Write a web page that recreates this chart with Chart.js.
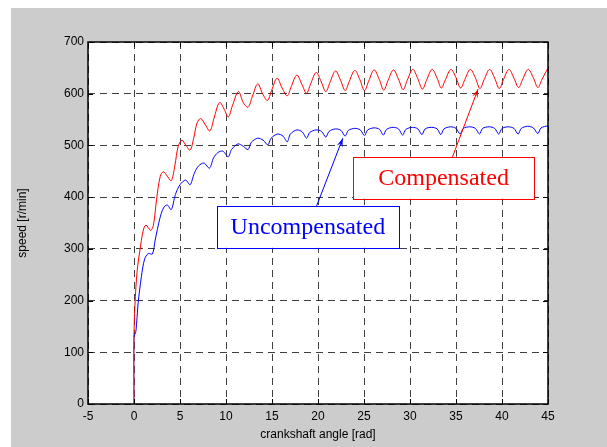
<!DOCTYPE html>
<html>
<head>
<meta charset="utf-8">
<script src="https://cdn.jsdelivr.net/npm/chart.js@4.4.1/dist/chart.umd.min.js"></script>
<style>
  html, body { margin: 0; padding: 0; background: #fff; }
  #wrap { width: 607px; height: 447px; }
</style>
</head>
<body>
<div id="wrap"><canvas id="chartSpeed" width="607" height="447"></canvas></div>
<script>
// ── Données ────────────────────────────────────────
const xTicks = [-5, 0, 5, 10, 15, 20, 25, 30, 35, 40, 45];
const yTicks = [0, 100, 200, 300, 400, 500, 600, 700];

// Compensated (rouge)
const redAngle = [0, 0, 0.1, 0.35, 0.65, 1.0, 1.3, 1.8, 2.1, 2.45, 2.85, 3.2, 3.6, 4.05, 4.45, 4.8, 5.2, 5.65, 6.1,
  6.5, 6.85, 7.25, 7.75, 8.25, 8.7, 9.3, 9.8, 10.25, 10.7, 11.35, 11.9, 12.4, 12.85, 13.45, 14.0, 14.5,
  14.95, 15.55, 16.1, 16.65, 17.1, 17.7, 18.25, 18.75, 19.2, 19.8, 20.35, 20.85, 21.3, 21.9, 22.45, 22.95,
  23.4, 24.0, 24.55, 25.05, 25.5, 26.1, 26.65, 27.15, 27.6, 28.2, 28.75, 29.25, 29.7, 30.3, 30.85, 31.35,
  31.8, 32.4, 32.95, 33.4, 33.85, 34.45, 35.0, 35.5, 35.95, 36.55, 37.1, 37.6, 38.05, 38.65, 39.2, 39.7,
  40.15, 40.75, 41.3, 41.8, 42.25, 42.85, 43.4, 43.9, 44.35, 44.95];
const redSpeed = [0, 130, 190, 259, 298, 335, 346, 336, 345, 395, 440, 449, 441, 432, 462, 498, 510, 500, 491,
  515, 543, 552, 540, 528, 553, 583, 570, 555, 577, 604, 582, 574, 594, 619, 599, 587,
  606, 630, 611, 596, 614, 636, 618, 601, 619, 641, 623, 604, 622, 644, 626, 606,
  624, 645, 627, 606, 624, 646, 628, 607, 625, 646, 628, 608, 626, 647, 629, 609,
  626, 647, 630, 611, 627, 647, 631, 611, 627, 647, 631, 610, 627, 647, 630, 610,
  627, 647, 630, 612, 628, 647, 631, 612, 628, 648];

// Uncompensated (bleu)
const blueAngle = [0, 0, 0.2, 0.45, 0.8, 1.15, 1.55, 2.0, 2.3, 2.8, 3.2, 3.6, 4.05, 4.5, 5.0, 5.6, 6.1,
  6.55, 7.0, 7.6, 8.2, 8.65, 9.1, 9.65, 10.25, 10.6, 11.3, 11.9, 12.4, 12.75, 13.45, 14.05, 14.55,
  14.9, 15.6, 16.2, 16.65, 17.0, 17.7, 18.3, 18.75, 19.1, 19.8, 20.4, 20.85, 21.2, 21.9, 22.5, 22.95,
  23.3, 24.0, 24.6, 25.05, 25.4, 26.1, 26.7, 27.1, 27.45, 28.15, 28.75, 29.2, 29.55, 30.25, 30.85, 31.3,
  31.65, 32.35, 32.95, 33.35, 33.7, 34.4, 35.0, 35.45, 35.8, 36.5, 37.1, 37.55, 37.9, 38.6, 39.2, 39.65,
  40.0, 40.7, 41.3, 41.75, 42.1, 42.8, 43.4, 43.9, 44.25, 45];
const blueSpeed = [0, 130, 140, 195, 246, 280, 291, 290, 317, 358, 379, 385, 376, 405, 424, 433, 424,
  446, 460, 466, 456, 476, 486, 489, 478, 492, 503, 498, 492, 506, 514, 510, 501,
  514, 522, 518, 507, 522, 530, 526, 514, 525, 530, 527, 516, 527, 532, 529, 518,
  529, 533, 530, 519, 530, 534, 531, 520, 531, 535, 532, 520, 531, 535, 532, 521,
  532, 535, 532, 521, 532, 536, 533, 522, 533, 536, 533, 522, 533, 536, 533, 522,
  533, 536, 533, 522, 533, 537, 534, 523, 534, 538];

const toPoints = (xs, ys) => xs.map((x, i) => ({ x: x, y: ys[i] }));

// ── Annotations (coordonnées en unités des axes) ───
const notes = [
  { text: 'Compensated', color: '#ff0000', box: [23.8, 478, 43.5, 397], tail: [34.6, 477], tip: [37.4, 609] },
  { text: 'Uncompensated', color: '#0000ff', box: [9.0, 383, 28.8, 302], tail: [19.85, 383], tip: [22.7, 514] }
];

const figurePlugin = {
  id: 'figure',
  beforeDraw(chart) {
    const { ctx, chartArea: a } = chart;
    ctx.save();
    ctx.fillStyle = '#cccccc';
    ctx.fillRect(11, 8, chart.width - 11, chart.height - 8);
    ctx.fillStyle = '#ffffff';
    ctx.fillRect(a.left, a.top, a.right - a.left, a.bottom - a.top);
    ctx.restore();
  },
  afterDatasetsDraw(chart) {
    const { ctx, chartArea: a, scales } = chart;
    const sx = scales.x, sy = scales.y;
    ctx.save();
    // ticks intérieurs + cadre
    ctx.strokeStyle = '#000';
    ctx.lineWidth = 1;
    ctx.beginPath();
    xTicks.forEach(v => {
      const px = Math.round(sx.getPixelForValue(v)) + 0.5;
      ctx.moveTo(px, a.bottom); ctx.lineTo(px, a.bottom - 5);
      ctx.moveTo(px, a.top); ctx.lineTo(px, a.top + 5);
    });
    yTicks.forEach(v => {
      const py = Math.round(sy.getPixelForValue(v)) + 0.5;
      ctx.moveTo(a.left, py); ctx.lineTo(a.left + 5, py);
      ctx.moveTo(a.right, py); ctx.lineTo(a.right - 5, py);
    });
    ctx.stroke();
    ctx.lineWidth = 1.5;
    ctx.strokeRect(a.left, a.top, a.right - a.left, a.bottom - a.top);

    // boîtes de texte et flèches
    notes.forEach(n => {
      const x1 = sx.getPixelForValue(n.box[0]), y1 = sy.getPixelForValue(n.box[1]);
      const x2 = sx.getPixelForValue(n.box[2]), y2 = sy.getPixelForValue(n.box[3]);
      ctx.fillStyle = '#fff';
      ctx.fillRect(x1, y1, x2 - x1, y2 - y1);
      ctx.strokeStyle = n.color;
      ctx.lineWidth = 1;
      ctx.strokeRect(Math.round(x1) + 0.5, Math.round(y1) + 0.5, Math.round(x2 - x1), Math.round(y2 - y1));
      ctx.fillStyle = n.color;
      ctx.font = '24px "Liberation Serif", "Times New Roman", serif';
      ctx.textAlign = 'center';
      ctx.textBaseline = 'middle';
      ctx.fillText(n.text, (x1 + x2) / 2, (y1 + y2) / 2 + 1);

      const tx = sx.getPixelForValue(n.tail[0]), ty = sy.getPixelForValue(n.tail[1]);
      const hx = sx.getPixelForValue(n.tip[0]), hy = sy.getPixelForValue(n.tip[1]);
      ctx.beginPath();
      ctx.moveTo(tx, ty); ctx.lineTo(hx, hy);
      ctx.stroke();
      const ang = Math.atan2(hy - ty, hx - tx);
      const len = 9, wid = 3;
      const bx = hx - len * Math.cos(ang), by = hy - len * Math.sin(ang);
      ctx.beginPath();
      ctx.moveTo(hx, hy);
      ctx.lineTo(bx + wid * Math.sin(ang), by - wid * Math.cos(ang));
      ctx.lineTo(hx - 0.6 * len * Math.cos(ang), hy - 0.6 * len * Math.sin(ang));
      ctx.lineTo(bx - wid * Math.sin(ang), by + wid * Math.cos(ang));
      ctx.closePath();
      ctx.fill();
    });
    ctx.restore();
  }
};

const tickFont = { family: '"Liberation Sans", Arial, sans-serif', size: 12 };
const firstSeg = { borderColor: c => c.p0DataIndex === 0 ? '#9c2a6a' : undefined };

new Chart(document.getElementById('chartSpeed'), {
  type: 'line',
  data: {
    datasets: [
      {
        label: 'Uncompensated',
        data: toPoints(blueAngle, blueSpeed),
        borderColor: '#0000ff',
        borderWidth: 1,
        pointRadius: 0,
        tension: 0.3,
        segment: firstSeg
      },
      {
        label: 'Compensated',
        data: toPoints(redAngle, redSpeed),
        borderColor: '#ff0000',
        borderWidth: 1,
        pointRadius: 0,
        tension: 0.35,
        segment: firstSeg
      }
    ]
  },
  options: {
    responsive: false,
    animation: false,
    events: [],
    layout: { padding: { left: 11, top: 42, right: 59, bottom: 0 } },
    plugins: { legend: { display: false }, tooltip: { enabled: false } },
    scales: {
      x: {
        type: 'linear',
        min: -5, max: 45,
        afterBuildTicks: s => { s.ticks = xTicks.map(v => ({ value: v })); },
        afterFit: s => { s.height = 43; },
        grid: { color: 'rgba(0,0,0,0.75)', lineWidth: 1, drawTicks: false },
        border: { display: false, dash: [7, 5] },
        ticks: { color: '#000', font: tickFont, padding: 5, maxRotation: 0 },
        title: { display: true, text: 'crankshaft angle [rad]', color: '#000', font: tickFont, padding: { top: 0, bottom: 5 } }
      },
      y: {
        min: 0, max: 700,
        afterBuildTicks: s => { s.ticks = yTicks.map(v => ({ value: v })); },
        afterFit: s => { s.width = 77; },
        grid: { color: 'rgba(0,0,0,0.75)', lineWidth: 1, drawTicks: false },
        border: { display: false, dash: [7, 5] },
        ticks: { color: '#000', font: tickFont, padding: 4 },
        title: { display: true, text: 'speed [r/min]', color: '#000', font: tickFont, padding: { top: 4, bottom: 0 } }
      }
    }
  },
  plugins: [figurePlugin]
});
</script>
</body>
</html>
